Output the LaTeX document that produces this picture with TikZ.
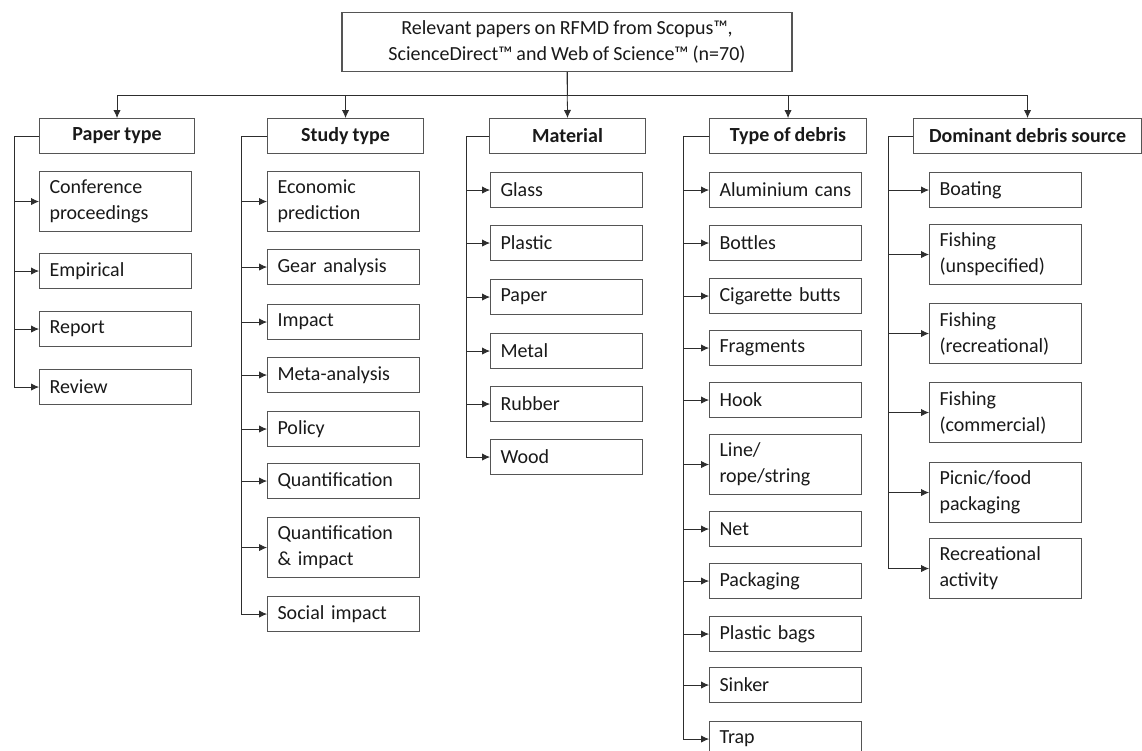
\documentclass[tikz,border=0pt]{standalone}
\usepackage{fontspec}
\setmainfont{Carlito}[WordSpace=0.9]
\usetikzlibrary{arrows.meta}
\definecolor{cbox}{RGB}{85,85,85}
\definecolor{cline}{RGB}{45,45,45}
\definecolor{ctext}{RGB}{25,25,25}

\begin{document}
\begin{tikzpicture}[x=0.75pt,y=-0.75pt,
  font=\fontsize{15pt}{19.5pt}\selectfont,text=ctext,
  box/.style={rectangle,draw=cbox,line width=0.8pt,anchor=north west,inner xsep=7.5pt,inner ysep=0pt},
  hd/.style={box,font=\fontsize{15pt}{19.5pt}\selectfont\bfseries,minimum height=26.25pt,minimum width=#1,align=center},
  it/.style={box,text width=99pt,align=left,minimum height=26.25pt},
  two/.style={minimum height=45pt},
  a/.style={-{Latex[length=6pt,width=5.5pt]},cline,line width=0.6pt},
]
\useasboundingbox (0,0) rectangle (1142,750);
\node[box,align=center,anchor=north,minimum width=337.5pt,minimum height=44.25pt] (top) at (567,12)
  {Relevant papers on RFMD from Scopus™,\\ScienceDirect™ and Web of Science™ (n=70)};
% --- headings ---
\node[hd=116.25pt] (pt) at (39,118) {Paper type};
\node[hd=117pt] (st) at (267,118) {Study type};
\node[hd=117pt] (mt) at (489,118) {Material};
\node[hd=117.75pt] (db) at (709,118) {Type of debris};
\node[hd=171pt] (ds) at (913,118) {Dominant debris source};
\draw[a] (top.south) -- (mt.north);
\foreach \h in {pt,st,db,ds} \draw[a] (top.south) -- ++(0,23) -| (\h.north);
% --- paper type ---
\node[it,two] (p1) at (39,171) {Conference\\proceedings};
\node[it] (p2) at (39,253) {Empirical};
\node[it] (p3) at (39,311) {Report};
\node[it] (p4) at (39,369) {Review};
\foreach \i in {p1,p2,p3,p4} \draw[a] (pt.west) -- ++(-25,0) |- (\i.west);
% --- study type ---
\node[it,two] (s1) at (267,171) {Economic\\prediction};
\node[it] (s2) at (267,249) {Gear analysis};
\node[it] (s3) at (267,304) {Impact};
\node[it] (s4) at (267,357) {Meta-analysis};
\node[it] (s5) at (267,411) {Policy};
\node[it] (s6) at (267,463) {Quantification};
\node[it,two] (s7) at (267,517) {Quantification\\\& impact};
\node[it] (s8) at (267,596) {Social impact};
\foreach \i in {s1,s2,s3,s4,s5,s6,s7,s8} \draw[a] (st.west) -- ++(-26,0) |- (\i.west);
% --- material ---
\node[it] (m1) at (490,172) {Glass};
\node[it] (m2) at (490,225) {Plastic};
\node[it] (m3) at (490,279) {Paper};
\node[it] (m4) at (490,333) {Metal};
\node[it] (m5) at (490,386) {Rubber};
\node[it] (m6) at (490,439) {Wood};
\foreach \i in {m1,m2,m3,m4,m5,m6} \draw[a] (mt.west) -- ++(-23,0) |- (\i.west);
% --- type of debris ---
\node[it] (d1) at (709,172) {Aluminium cans};
\node[it] (d2) at (709,225) {Bottles};
\node[it] (d3) at (709,278) {Cigarette butts};
\node[it] (d4) at (709,330) {Fragments};
\node[it] (d5) at (709,382) {Hook};
\node[it,two] (d6) at (709,434) {Line/\\rope/string};
\node[it] (d7) at (709,511) {Net};
\node[it] (d8) at (709,563) {Packaging};
\node[it] (d9) at (709,616) {Plastic bags};
\node[it] (d10) at (709,667) {Sinker};
\node[it] (d11) at (709,721) {Trap};
\foreach \i in {d1,d2,d3,d4,d5,d6,d7,d8,d9,d10,d11} \draw[a] (db.west) -- ++(-26,0) |- (\i.west);
% --- dominant debris source ---
\node[it] (r1) at (929,172) {Boating};
\node[it,two] (r2) at (929,224) {Fishing\\(unspecified)};
\node[it,two] (r3) at (929,303) {Fishing\\(recreational)};
\node[it,two] (r4) at (929,382) {Fishing\\(commercial)};
\node[it,two] (r5) at (929,462) {Picnic/food\\packaging};
\node[it,two] (r6) at (929,538) {Recreational\\activity};
\foreach \i in {r1,r2,r3,r4,r5,r6} \draw[a] (ds.west) -- ++(-25,0) |- (\i.west);
\end{tikzpicture}
\end{document}
